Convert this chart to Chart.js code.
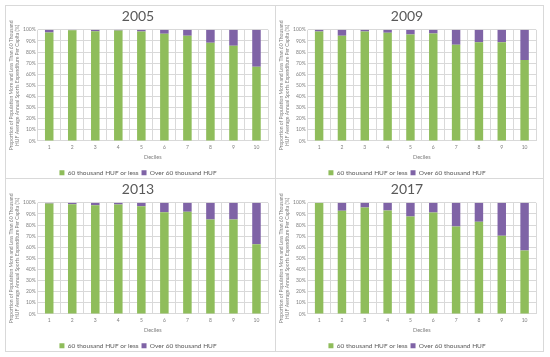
<!DOCTYPE html>
<html>
<head>
<meta charset="utf-8">
<script src="https://cdn.jsdelivr.net/npm/chart.js@4.4.1/dist/chart.umd.min.js"></script>
<style>
  html, body { margin: 0; padding: 0; background: #fff; }
  body { width: 550px; height: 357px; position: relative; overflow: hidden; }
  .panel { position: absolute; height: 174px; border: 1px solid #d9d9d9; box-sizing: border-box; background: #fff; overflow: hidden; }
  .panel canvas { display: block; }
  .left { left: 5px; width: 271px; }
  .right { left: 275px; width: 269px; }
  .top { top: 5px; }
  .bottom { top: 178px; }
</style>
</head>
<body>
<div class="panel left top"><canvas id="c2005"></canvas></div>
<div class="panel right top"><canvas id="c2009"></canvas></div>
<div class="panel left bottom"><canvas id="c2013"></canvas></div>
<div class="panel right bottom"><canvas id="c2017"></canvas></div>
<script>
// Données (en %)
const deciles = ['1', '2', '3', '4', '5', '6', '7', '8', '9', '10'];
const years = ['2005', '2009', '2013', '2017'];

const low2005 = [97.6, 99.7, 98.8, 99.4, 98.5, 96.4, 94.6, 88.4, 85.7, 66.7];
const high2005 = [2.4, 0.3, 1.2, 0.6, 1.5, 3.6, 5.4, 11.6, 14.3, 33.3];

const low2009 = [98.5, 94.6, 98.5, 97.3, 95.8, 96.7, 86.6, 88.7, 88.7, 72.9];
const high2009 = [1.5, 5.4, 1.5, 2.7, 4.2, 3.3, 13.4, 11.3, 11.3, 27.1];

const low2013 = [99.4, 98.8, 97.9, 98.5, 97.0, 91.6, 91.9, 85.0, 85.0, 62.8];
const high2013 = [0.6, 1.2, 2.1, 1.5, 3.0, 8.4, 8.1, 15.0, 15.0, 37.2];

const low2017 = [100, 92.8, 95.8, 93.1, 87.7, 91.3, 78.7, 82.9, 70.3, 57.0];
const high2017 = [0, 7.2, 4.2, 6.9, 12.3, 8.7, 21.3, 17.1, 29.7, 43.0];

const lowLabel = '60 thousand HUF or less';
const highLabel = 'Over 60 thousand HUF';
const yTitle = ['Proportion of Population More and Less Than 60 Thousand',
                'HUF Average Annual Sports Expenditure Per Capita (%)'];
const xTitle = 'Deciles';

const GREEN = '#8fbd5b';
const PURPLE = '#7f63a6';
const GREY = '#7f7f7f';
const FONT = 'Lato, "Open Sans", sans-serif';

Chart.defaults.font.family = FONT;
Chart.defaults.color = GREY;
Chart.defaults.animation = false;

function makeChart(id, year, low, high) {
    const canvas = document.getElementById(id);
    // le canvas dépasse un peu du cadre : le vide sous la légende est coupé
    canvas.width = canvas.parentElement.clientWidth;
    canvas.height = 182;
    new Chart(canvas, {
        type: 'bar',
        data: {
            labels: deciles,
            datasets: [
                { label: lowLabel, data: low, backgroundColor: GREEN, barPercentage: 1, categoryPercentage: 0.37 },
                { label: highLabel, data: high, backgroundColor: PURPLE, barPercentage: 1, categoryPercentage: 0.37 }
            ]
        },
        options: {
            responsive: false,
            maintainAspectRatio: false,
            layout: { padding: { left: 2, right: 7, top: 0, bottom: 2 } },
            plugins: {
                title: {
                    display: true,
                    text: year,
                    color: '#595959',
                    font: { size: 14, weight: 'normal' },
                    padding: { top: 2, bottom: 5 }
                },
                legend: {
                    position: 'bottom',
                    labels: {
                        boxWidth: 5,
                        boxHeight: 5,
                        font: { size: 6.5 },
                        color: '#595959',
                        padding: 3
                    }
                },
                tooltip: { enabled: false }
            },
            scales: {
                x: {
                    stacked: true,
                    grid: { color: '#d9d9d9', offset: true, drawTicks: false },
                    border: { color: '#d9d9d9' },
                    ticks: { font: { size: 5 }, padding: 3 },
                    title: { display: true, text: xTitle, font: { size: 5.5 }, padding: { top: 1, bottom: 6 } }
                },
                y: {
                    stacked: true,
                    min: 0,
                    max: 100,
                    grid: { color: '#d9d9d9', drawTicks: false },
                    border: { display: false },
                    ticks: { stepSize: 10, font: { size: 5 }, padding: 2, callback: v => v + '%' },
                    title: { display: true, text: yTitle, font: { size: 5 }, padding: { top: 0, bottom: 1 } }
                }
            }
        }
    });
}

makeChart('c2005', years[0], low2005, high2005);
makeChart('c2009', years[1], low2009, high2009);
makeChart('c2013', years[2], low2013, high2013);
makeChart('c2017', years[3], low2017, high2017);
</script>
</body>
</html>
